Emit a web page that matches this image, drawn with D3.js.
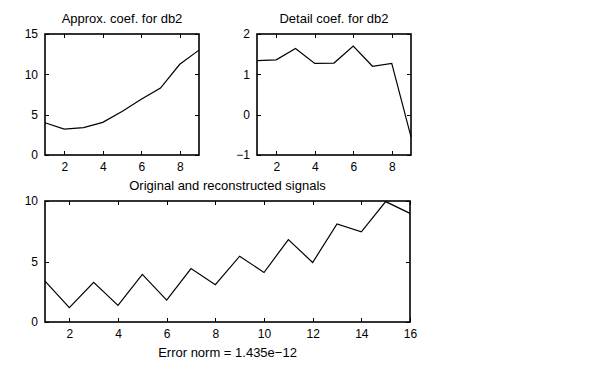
<!DOCTYPE html>
<html>
<head>
<meta charset="utf-8">
<script src="https://cdn.jsdelivr.net/npm/d3@7"></script>
<style>
  body { margin: 0; background: #fff; }
  svg text { font-family: "Liberation Sans", Helvetica, Arial, sans-serif; font-size: 13px; fill: #000; }
</style>
</head>
<body>
<div id="chart"></div>
<script>
// approximation coefficients (level 1, db2)
var approxX = [1, 2, 3, 4, 5, 6, 7, 8, 9];
var approxY = [4.0, 3.2, 3.4, 4.05, 5.4, 6.9, 8.3, 11.25, 13.0];

// detail coefficients
var detailX = [1, 2, 3, 4, 5, 6, 7, 8, 9];
var detailY = [1.34, 1.36, 1.64, 1.27, 1.28, 1.70, 1.20, 1.27, -0.55];

// original / reconstructed signal
var signalX = [1, 2, 3, 4, 5, 6, 7, 8, 9, 10, 11, 12, 13, 14, 15, 16];
var signalY = [3.38, 1.18, 3.27, 1.37, 3.93, 1.81, 4.42, 3.08, 5.44, 4.09, 6.81, 4.92, 8.10, 7.45, 9.95, 8.98];

var topXTicks = [2, 4, 6, 8];
var approxYTicks = [0, 5, 10, 15];
var detailYTicks = [-1, 0, 1, 2];
var signalXTicks = [2, 4, 6, 8, 10, 12, 14, 16];
var signalYTicks = [0, 5, 10];

var width = 601, height = 369;

var svg = d3.select("#chart")
    .append("svg")
    .attr("width", width)
    .attr("height", height);

function fmt(d) {
    return String(d).replace("-", "\u2212");
}

// draw one matlab-style axes box
function panel(box, xs, ys, xDomain, yDomain, xTicks, yTicks, title, xlabel) {
    var x = d3.scaleLinear().domain(xDomain).range([box.left, box.right]);
    var y = d3.scaleLinear().domain(yDomain).range([box.bottom, box.top]);
    var tl = 4;

    var g = svg.append("g");

    // ticks on all four sides, pointing inward
    g.append("g")
        .attr("transform", "translate(0," + box.bottom + ")")
        .call(d3.axisBottom(x).tickValues(xTicks).tickSize(-tl).tickFormat(fmt).tickPadding(7))
        .call(function (a) { a.select(".domain").remove(); });
    g.append("g")
        .attr("transform", "translate(0," + box.top + ")")
        .call(d3.axisTop(x).tickValues(xTicks).tickSize(-tl).tickFormat(""))
        .call(function (a) { a.select(".domain").remove(); });
    g.append("g")
        .attr("transform", "translate(" + box.left + ",0)")
        .call(d3.axisLeft(y).tickValues(yTicks).tickSize(-tl).tickFormat(fmt).tickPadding(7))
        .call(function (a) { a.select(".domain").remove(); });
    g.append("g")
        .attr("transform", "translate(" + box.right + ",0)")
        .call(d3.axisRight(y).tickValues(yTicks).tickSize(-tl).tickFormat(""))
        .call(function (a) { a.select(".domain").remove(); });

    g.selectAll(".tick line").attr("stroke", "#000").attr("shape-rendering", "crispEdges");
    g.selectAll(".tick text")
        .style("font-family", "'Liberation Sans', Helvetica, Arial, sans-serif")
        .style("font-size", "12px")
        .attr("fill", "#000");

    var line = d3.line()
        .x(function (d, i) { return x(xs[i]); })
        .y(function (d) { return y(d); });

    g.append("path")
        .datum(ys)
        .attr("d", line)
        .attr("fill", "none")
        .attr("stroke", "#000")
        .attr("stroke-width", 1.2);

    g.append("rect")
        .attr("x", box.left)
        .attr("y", box.top)
        .attr("width", box.right - box.left)
        .attr("height", box.bottom - box.top)
        .attr("fill", "none")
        .attr("stroke", "#000")
        .attr("stroke-width", 1.6);

    g.append("text")
        .attr("x", (box.left + box.right) / 2)
        .attr("y", box.top - 11)
        .attr("text-anchor", "middle")
        .text(title);

    if (xlabel) {
        g.append("text")
            .attr("x", (box.left + box.right) / 2)
            .attr("y", box.bottom + 35)
            .attr("text-anchor", "middle")
            .text(xlabel);
    }
}

panel({left: 45, right: 199, top: 34, bottom: 155}, approxX, approxY,
    [1, 9], [0, 15], topXTicks, approxYTicks, "Approx. coef. for db2");

panel({left: 257, right: 411, top: 34, bottom: 155}, detailX, detailY,
    [1, 9], [-1, 2], topXTicks, detailYTicks, "Detail coef. for db2");

panel({left: 45, right: 410, top: 201, bottom: 322}, signalX, signalY,
    [1, 16], [0, 10], signalXTicks, signalYTicks, "Original and reconstructed signals",
    "Error norm = 1.435e\u221212");
</script>
</body>
</html>
